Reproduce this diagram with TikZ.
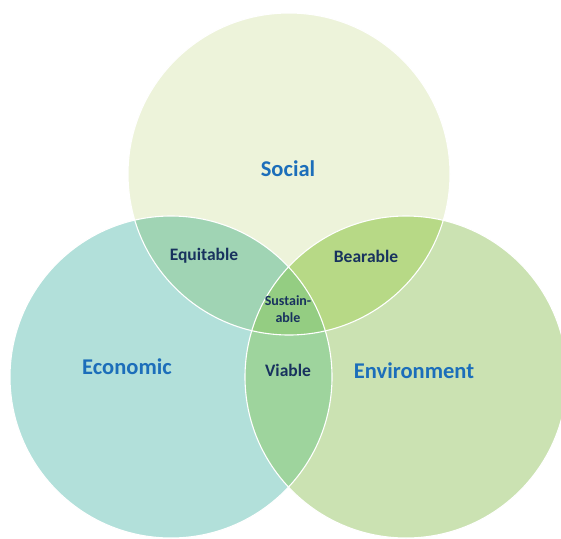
\documentclass[tikz,border=0pt]{standalone}
\usepackage{fontspec}
\setmainfont{Carlito}
\definecolor{socialc}{RGB}{237,243,218}
\definecolor{econc}{RGB}{178,224,218}
\definecolor{envc}{RGB}{203,226,178}
\definecolor{equic}{RGB}{160,212,180}
\definecolor{bearc}{RGB}{183,217,134}
\definecolor{viac}{RGB}{158,212,157}
\definecolor{sustc}{RGB}{148,205,130}
\definecolor{mainblue}{RGB}{28,110,186}
\definecolor{navy}{RGB}{24,50,94}
\tikzset{
  mainlabel/.style={font=\bfseries\fontsize{22.5}{26}\selectfont, text=mainblue, inner sep=0pt},
  lenslabel/.style={font=\bfseries\fontsize{17.5}{20}\selectfont, text=navy, inner sep=0pt},
  centerlabel/.style={font=\bfseries\fontsize{14}{16.5}\selectfont, text=navy, inner sep=0pt, align=center},
  rim/.style={draw=white, line width=1.1pt}
}
\begin{document}
\begin{tikzpicture}[x=1pt,y=-1pt]
\useasboundingbox (0,0) rectangle (561,538);
\clip (0,0) rectangle (561,538);
\def\rr{161pt}
\coordinate (S) at (289,174);
\coordinate (E) at (171,377);
\coordinate (V) at (406,377);
\fill[socialc] (S) circle[radius=\rr];
\fill[econc] (E) circle[radius=\rr];
\fill[envc] (V) circle[radius=\rr];
\begin{scope}\clip (S) circle[radius=\rr]; \fill[equic] (E) circle[radius=\rr]; \end{scope}
\begin{scope}\clip (S) circle[radius=\rr]; \fill[bearc] (V) circle[radius=\rr]; \end{scope}
\begin{scope}\clip (E) circle[radius=\rr]; \fill[viac] (V) circle[radius=\rr]; \end{scope}
\begin{scope}\clip (S) circle[radius=\rr]; \clip (E) circle[radius=\rr]; \fill[sustc] (V) circle[radius=\rr]; \end{scope}
\draw[rim] (S) circle[radius=\rr];
\draw[rim] (E) circle[radius=\rr];
\draw[rim] (V) circle[radius=\rr];
\node[mainlabel] (social) at (288,169) {Social};
\node[mainlabel] (economic) at (127,367) {Economic};
\node[mainlabel] (environment) at (414,371) {Environment};
\node[lenslabel] (equitable) at (204,256) {Equitable};
\node[lenslabel] (bearable) at (366,256) {Bearable};
\node[lenslabel] (viable) at (288,370) {Viable};
\node[centerlabel] (sustainable) at (288,309) {Sustain-\\able};
\end{tikzpicture}
\end{document}
